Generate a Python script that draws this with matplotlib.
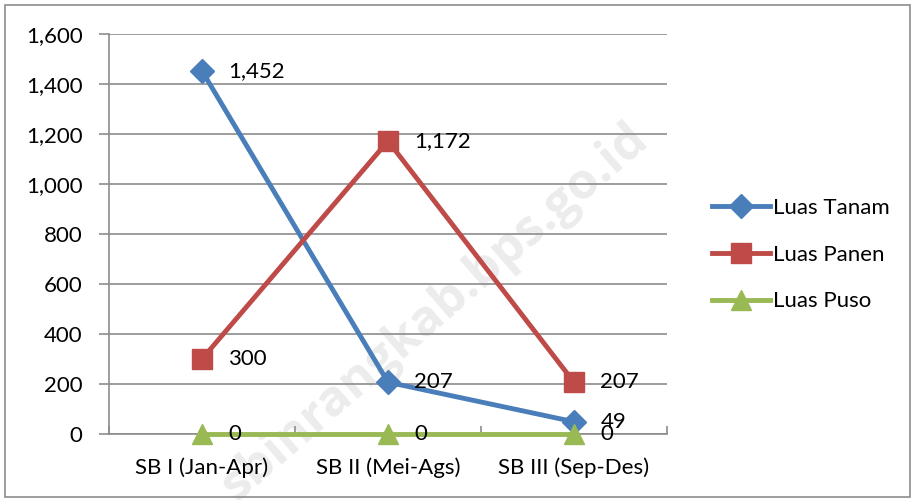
import matplotlib
matplotlib.use("Agg")
import matplotlib.pyplot as plt
from matplotlib.patches import Rectangle

categories = ["SB I (Jan-Apr)", "SB II (Mei-Ags)", "SB III (Sep-Des)"]
luas_tanam = [1452, 207, 49]
luas_panen = [300, 1172, 207]
luas_puso = [0, 0, 0]
series_names = ["Luas Tanam", "Luas Panen", "Luas Puso"]
yticks = [0, 200, 400, 600, 800, 1000, 1200, 1400, 1600]

plt.rcParams['font.family'] = ['Lato', 'DejaVu Sans']
FS = 16

W, H = 915, 500
fig = plt.figure(figsize=(W / 100, H / 100), dpi=100)
ax = fig.add_axes([109 / W, 1 - 434 / H, (667 - 109) / W, (434 - 34) / H])

# outer border
fig.patches.append(Rectangle((5 / W, 3 / H), 905 / W, 492 / H, transform=fig.transFigure,
                             fill=False, edgecolor='#8c8c8c', linewidth=1.2))

# watermark
fig.text(435 / W, 1 - 312 / H, "sbinrangkab.bps.go.id", rotation=41, fontsize=36,
         fontweight='bold', color='#ececec', ha='center', va='center', zorder=-1,
         family=['Open Sans', 'DejaVu Sans'])

x = list(range(len(categories)))
styles = [
    (luas_tanam, '#4A7EBB', 'D', 12),
    (luas_panen, '#BE4B48', 's', 14),
    (luas_puso, '#98B954', '^', 14),
]
for (vals, col, mk, ms), name in zip(styles, series_names):
    ax.plot(x, vals, color=col, linewidth=3.5, marker=mk, markersize=ms,
            markeredgecolor=col, markerfacecolor=col, label=name, zorder=3, clip_on=False)
    for xi, v in zip(x, vals):
        ax.annotate(f"{v:,}", (xi, v), xytext=(19, 0), textcoords='offset points',
                    ha='left', va='center', fontsize=FS, color='black', zorder=4,
                    annotation_clip=False)

ax.set_xlim(-0.5, 2.5)
ax.set_ylim(0, 1600)
ax.set_yticks(yticks)
ax.set_yticklabels([f"{t:,}" for t in yticks])
ax.set_xticks(x)
ax.set_xticklabels(categories)
ax.set_xticks([-0.5, 0.5, 1.5, 2.5], minor=True)
ax.tick_params(axis='x', which='major', length=0, labelsize=FS, pad=17)
ax.tick_params(axis='x', which='minor', length=6, color='#8c8c8c', width=1.2, direction='in')
ax.tick_params(axis='y', length=7, color='#8c8c8c', width=1.2, labelsize=FS, pad=12)
ax.yaxis.grid(True, color='#8c8c8c', linewidth=1.2)
ax.set_axisbelow(True)
for s in ['top', 'right']:
    ax.spines[s].set_visible(False)
for s in ['left', 'bottom']:
    ax.spines[s].set_color('#8c8c8c')
    ax.spines[s].set_linewidth(1.2)
ax.patch.set_alpha(0)

leg = fig.legend(loc='upper left', bbox_to_anchor=(692 / W, 1 - 178 / H), frameon=False,
                 fontsize=FS, handlelength=2.6, handletextpad=0.15, labelspacing=1.2)

fig.savefig("out.png", dpi=100)
